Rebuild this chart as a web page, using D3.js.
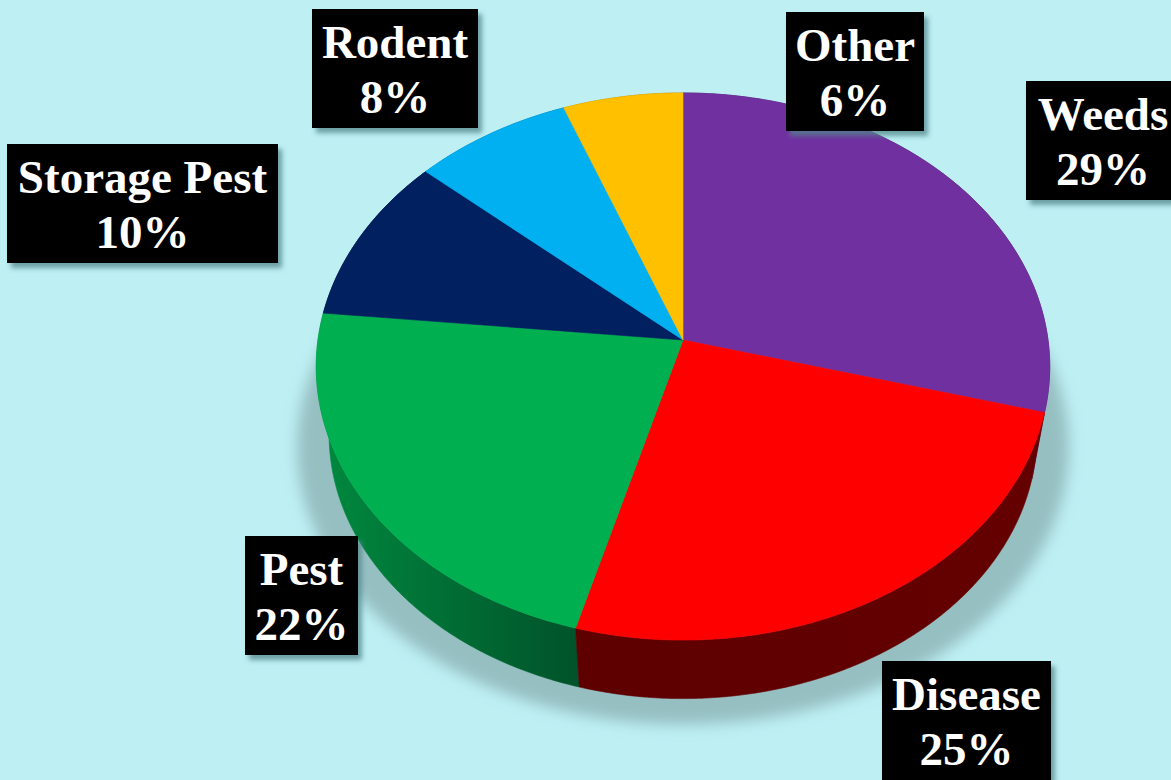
<!DOCTYPE html>
<html>
<head>
<meta charset="utf-8">
<script src="https://cdn.jsdelivr.net/npm/d3@7"></script>
<style>
  html, body { margin: 0; padding: 0; background: #bdeff3; }
  svg { display: block; }
</style>
</head>
<body>
<svg id="chart" width="1171" height="780"></svg>
<script>
// ---- data ----
const categories = ["Weeds", "Disease", "Pest", "Storage Pest", "Rodent", "Other"];
// slice sizes (labels show the rounded figures)
const values = [29.2, 25.1, 22.3, 9.9, 7.7, 5.8];
const percentLabels = ["29%", "25%", "22%", "10%", "8%", "6%"];

// ---- styles ----
const topColors = ["#7030A0", "#FF0000", "#00B050", "#002060", "#00B0F0", "#FFC000"];
const sideLight = ["#4b1f6e", "#640000", "#008a3f", "#001545", "#0080b0", "#b08500"];
const sideDark  = ["#3e1a5c", "#5e0000", "#00532a", "#001038", "#006890", "#906c00"];

// ---- layout ----
const labelBoxes = [
  { x: 1026, y: 81,  w: 154 },
  { x: 882,  y: 661, w: 169 },
  { x: 245,  y: 536, w: 113 },
  { x: 7,    y: 144, w: 271 },
  { x: 312,  y: 9,   w: 166 },
  { x: 786,  y: 12,  w: 138 }
];
const boxH = 119;

const W = 1171, H = 780;
const svg = d3.select("#chart");
svg.append("rect").attr("width", W).attr("height", H).attr("fill", "#bdeff3");

const defs = svg.append("defs");
defs.append("filter").attr("id", "pieShadow")
  .attr("x", "-20%").attr("y", "-20%").attr("width", "140%").attr("height", "140%")
  .append("feGaussianBlur").attr("stdDeviation", 7);
const ds = defs.append("filter").attr("id", "boxShadow")
  .attr("x", "-10%").attr("y", "-10%").attr("width", "130%").attr("height", "130%");
ds.append("feDropShadow").attr("dx", 4).attr("dy", 5).attr("stdDeviation", 2.5)
  .attr("flood-color", "#4f8589").attr("flood-opacity", 0.75);

// ---- perspective projection of the disk ----
const P = { x0: 683, y0: 340, A: 365, B: 271, k: 0.097, s: 0.965, depth: 69 };
const rScale = d3.scaleLinear().domain([0, 1]).range([0, 1]);
function proj(theta, r, bottom) {
  const rr = rScale(r);
  const u = rr * Math.sin(theta), v = -rr * Math.cos(theta);
  const w = 1 - P.k * v;
  let x = P.x0 + P.A * u / w;
  let y = P.y0 + P.B * v / w;
  if (bottom) {
    x = P.x0 + P.s * (x - P.x0);
    y = P.y0 + P.s * (y - P.y0) + P.depth;
  }
  return [x, y];
}
function arcPoints(a0, a1, bottom) {
  const n = Math.max(2, Math.ceil((a1 - a0) / 0.01));
  const pts = [];
  for (let i = 0; i <= n; i++) pts.push(proj(a0 + (a1 - a0) * i / n, 1, bottom));
  return pts;
}
const line = d3.line().curve(d3.curveLinearClosed);

const pie = d3.pie().sort(null).value(d => d.value).startAngle(0).endAngle(2 * Math.PI);
const data = categories.map((c, i) => ({ name: c, value: values[i], pct: percentLabels[i], i }));
const arcs = pie(data);

// ---- shadow under pie ----
const shadowPts = arcPoints(0, 2 * Math.PI, true).map(([x, y]) => [
  P.x0 + 1.09 * (x - P.x0), 420 + 1.05 * (y - 420) + 12
]);
svg.append("path").attr("d", line(shadowPts))
  .attr("fill", "#96bfc2").attr("opacity", 1).attr("filter", "url(#pieShadow)");

// ---- side walls ----
const sideG = svg.append("g");
arcs.forEach(a => {
  const g = defs.append("linearGradient").attr("id", "side" + a.index)
    .attr("gradientUnits", "userSpaceOnUse");
  const top = arcPoints(a.startAngle, a.endAngle, false);
  const xs = top.map(p => p[0]);
  const xl = d3.min(xs), xr = d3.max(xs);
  g.attr("x1", xl).attr("x2", xr).attr("y1", 0).attr("y2", 0);
  const mid = (a.startAngle + a.endAngle) / 2;
  const leftSide = Math.sin(mid) < 0;
  g.append("stop").attr("offset", 0).attr("stop-color", leftSide ? sideLight[a.index] : sideDark[a.index]);
  g.append("stop").attr("offset", 1).attr("stop-color", leftSide ? sideDark[a.index] : sideLight[a.index]);
});
const sideOrder = arcs.slice().sort((p, q) => {
  const vp = -Math.cos((p.startAngle + p.endAngle) / 2), vq = -Math.cos((q.startAngle + q.endAngle) / 2);
  return vp - vq;
});
sideOrder.forEach(a => {
  const top = arcPoints(a.startAngle, a.endAngle, false);
  const bot = arcPoints(a.startAngle, a.endAngle, true).reverse();
  sideG.append("path").attr("d", line(top.concat(bot)))
    .attr("fill", `url(#side${a.index})`)
    .attr("stroke", `url(#side${a.index})`).attr("stroke-width", 0.6);
});

// ---- top faces ----
const topG = svg.append("g");
arcs.forEach(a => {
  const pts = [proj(0, 0, false)].concat(arcPoints(a.startAngle, a.endAngle, false));
  topG.append("path").attr("d", line(pts))
    .attr("fill", topColors[a.index])
    .attr("stroke", topColors[a.index]).attr("stroke-width", 0.6);
});

// ---- labels ----
const lab = svg.append("g");
arcs.forEach(a => {
  const b = labelBoxes[a.index];
  const g = lab.append("g");
  g.append("rect").attr("x", b.x).attr("y", b.y).attr("width", b.w).attr("height", boxH)
    .attr("fill", "#000").attr("filter", "url(#boxShadow)");
  const t = g.append("text")
    .attr("text-anchor", "middle")
    .attr("font-family", "'Liberation Serif', 'Times New Roman', serif")
    .attr("font-weight", "bold").attr("font-size", 47).attr("fill", "#fff");
  t.append("tspan").attr("x", b.x + b.w / 2).attr("y", b.y + 49).text(a.data.name);
  t.append("tspan").attr("x", b.x + b.w / 2).attr("y", b.y + 104).text(a.data.pct);
});
</script>
</body>
</html>
